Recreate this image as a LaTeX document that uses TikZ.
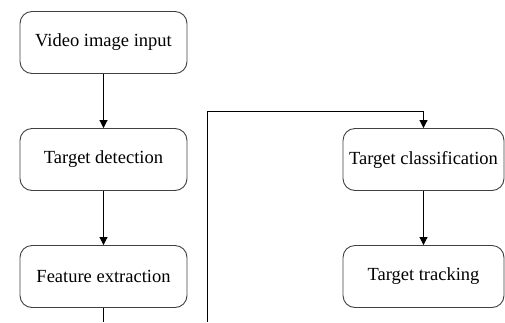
\documentclass[tikz,border=0pt]{standalone}
\usepackage{fontspec}
\setmainfont{Liberation Serif}
\usepackage{tikz}
\definecolor{boxline}{HTML}{404040}
\usetikzlibrary{arrows.meta}
\tikzstyle{rblock} = [rectangle, draw=boxline, line width=0.9pt, rounded corners=12pt,
text centered, minimum width=167pt, minimum height=62pt, inner sep=0pt,
font=\fontsize{18.5}{21}\selectfont]
\tikzstyle{arrow} = [line width=0.9pt, -{Triangle[width=8pt,length=8pt]}]

\begin{document}
\begin{tikzpicture}[x=1pt, y=1pt, node distance=117pt]
	\useasboundingbox (0,0) rectangle (505,-322);
	\node (Video) [rblock] at (103.5,-42.5) {Video image input};
	\node (Detect) [rblock, below of=Video] {Target detection};
	\node (Feature) [rblock, below of=Detect] {Feature extraction};
	\node (Classify) [rblock, right of=Detect, xshift=203pt, minimum width=161pt] {Target classification};
	\node (Track) [rblock, below of=Classify, minimum width=161pt] {Target tracking};

	\coordinate (FeatureOut) at (103.5,-322);
	\coordinate (LoopIn) at (207,-322);
	\coordinate (LoopTop) at (423.5,-111);

	\draw [arrow] (Video) -- (Detect);
	\draw [arrow] (Detect) -- (Feature);
	\draw [line width=0.9pt] (Feature) -- (FeatureOut);
	\draw [arrow] (LoopIn) |- (LoopTop) -- (Classify);
	\draw [arrow] (Classify) -- (Track);
\end{tikzpicture}
\end{document}
